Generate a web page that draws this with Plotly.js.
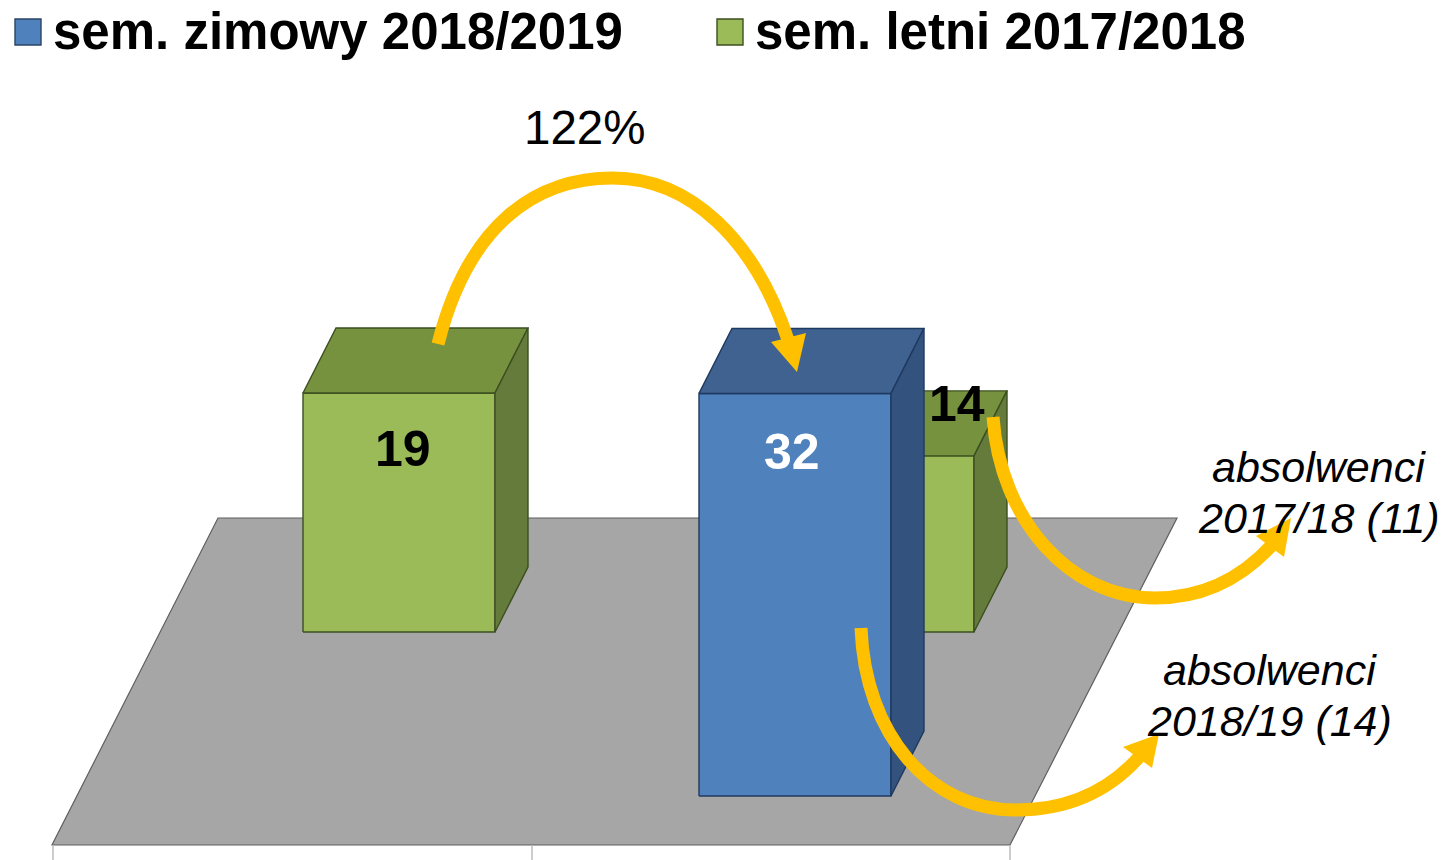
<!DOCTYPE html>
<html>
<head>
<meta charset="utf-8">
<script src="https://cdn.plot.ly/plotly-3.0.1.min.js"></script>
<style>html,body{margin:0;padding:0;background:#fff;overflow:hidden}#chart{width:1441px;height:860px}</style>
</head>
<body>
<div id="chart"></div>
<script>
// ---- data ----
const seriesNames = ['sem. zimowy 2018/2019', 'sem. letni 2017/2018'];
const winterValues = [null, 32];
const summerValues = [19, 14];
const growthLabel = '122%';
const graduateLabel = 'absolwenci';
const graduateYears = ['2017/18 (11)', '2018/19 (14)'];

// ---- geometry of the oblique 3D projection (screen pixels) ----
const W = 1441, H = 860;
const pxPerUnit = 12.58;
const frontBase = 796;          // screen y of value 0, front row
const backBase = 632;           // screen y of value 0, back row
const barW = 192, depthX = 33, depthY = 65;
const valY = p => (frontBase - p) / pxPerUnit;   // screen y -> value axis
const FONT = 'Liberation Sans, Arial, sans-serif';

const palette = {
  winter: {front: '#4f81bd', top: '#3f6290', side: '#33527d', edge: '#1f3a60'},
  summer: {front: '#9bbb59', top: '#77923f', side: '#657b3c', edge: '#3c4f20'}
};

function face(xs, ys, fill, edge) {
  return {type: 'scatter', mode: 'lines', x: [...xs, xs[0]], y: [...ys, ys[0]],
    fill: 'toself', fillcolor: fill, line: {color: edge, width: 1.4},
    hoverinfo: 'skip', showlegend: false};
}
function bar(left, basePx, value, c) {
  const b = valY(basePx), t = b + value;
  const dy = depthY / pxPerUnit, r = left + barW;
  return [
    face([left, r, r, left], [b, b, t, t], c.front, c.edge),
    face([left, r, r + depthX, left + depthX], [t, t, t + dy, t + dy], c.top, c.edge),
    face([r, r + depthX, r + depthX, r], [b, b + dy, t + dy, t], c.side, c.edge)
  ];
}

const traces = [
  ...bar(303, backBase, summerValues[0], palette.summer),
  ...bar(782, backBase, summerValues[1], palette.summer),
  ...bar(699, frontBase, winterValues[1], palette.winter),
  {type: 'scatter', mode: 'markers', x: [28, 730], y: [32, 32], xaxis: 'x2', yaxis: 'y2',
   marker: {symbol: 'square', size: 26,
     color: [palette.winter.front, palette.summer.front],
     line: {color: ['#2a4565', '#3c4f20'], width: 1.4}},
   hoverinfo: 'skip', showlegend: false}
];

// ---- decoration in screen pixels ----
const ORANGE = '#ffc000';
function arc(path) {
  return {type: 'path', xref: 'x2', yref: 'y2', layer: 'above', path: path,
    line: {color: ORANGE, width: 13}, fillcolor: 'rgba(0,0,0,0)'};
}
function head(path) {
  return {type: 'path', xref: 'x2', yref: 'y2', layer: 'above', path: path,
    line: {color: ORANGE, width: 0}, fillcolor: ORANGE};
}
function tick(x) {
  return {type: 'line', xref: 'x2', yref: 'y2', layer: 'below', x0: x, x1: x, y0: 845, y1: 860,
    line: {color: '#bdbdbd', width: 1.5}};
}
const shapes = [
  {type: 'path', xref: 'x2', yref: 'y2', layer: 'below',
   path: 'M52,845 L1010,845 L1177,518 L218,518 Z', fillcolor: '#a6a6a6',
   line: {color: '#5f5f5f', width: 1.2}},
  tick(53), tick(532), tick(1010),
  arc('M438,344 C468,225 535,178 613,178 C690,178 755,240 788,340'),
  head('M797,372 L771,342 L806,333 Z'),
  arc('M993,417 C1000,520 1070,598 1155,598 C1200,598 1240,580 1272,545'),
  head('M1291,518 L1256,536 L1284,557 Z'),
  arc('M861,628 C865,735 930,810 1016,810 C1070,810 1110,790 1140,756'),
  head('M1159,734 L1123,747 L1152,768 Z')
];

function note(x, y, text, size, color, extra) {
  return Object.assign({xref: 'x2', yref: 'y2', x: x, y: y, text: text, showarrow: false,
    xanchor: 'center', yanchor: 'middle', font: {family: FONT, size: size, color: color}}, extra || {});
}
const annotations = [
  note(54, 31, '<b>' + seriesNames[0] + '</b>', 51, '#000', {xanchor: 'left', xshift: -3}),
  note(756, 31, '<b>' + seriesNames[1] + '</b>', 51, '#000', {xanchor: 'left', xshift: -3}),
  note(585, 127, growthLabel, 47.5, '#000'),
  note(403, 449, '<b>' + summerValues[0] + '</b>', 50, '#000'),
  note(792, 452, '<b>' + winterValues[1] + '</b>', 50, '#fff'),
  note(957, 404, '<b>' + summerValues[1] + '</b>', 50, '#000'),
  note(1319, 467, '<i>' + graduateLabel + '</i>', 43, '#000'),
  note(1319, 518, '<i>' + graduateYears[0] + '</i>', 43, '#000'),
  note(1270, 670, '<i>' + graduateLabel + '</i>', 43, '#000'),
  note(1269, 721, '<i>' + graduateYears[1] + '</i>', 43, '#000')
];

const hidden = {visible: false, fixedrange: true};
const layout = {
  width: W, height: H, autosize: false, showlegend: false,
  margin: {l: 0, r: 0, t: 0, b: 0, pad: 0},
  paper_bgcolor: '#fff', plot_bgcolor: 'rgba(0,0,0,0)',
  xaxis: Object.assign({range: [0, W]}, hidden),
  yaxis: Object.assign({range: [valY(H), valY(0)]}, hidden),
  xaxis2: Object.assign({range: [0, W], overlaying: 'x'}, hidden),
  yaxis2: Object.assign({range: [H, 0], overlaying: 'y'}, hidden),
  shapes: shapes, annotations: annotations, hovermode: false
};
Plotly.newPlot('chart', traces, layout, {displayModeBar: false, staticPlot: true});
</script>
</body>
</html>
